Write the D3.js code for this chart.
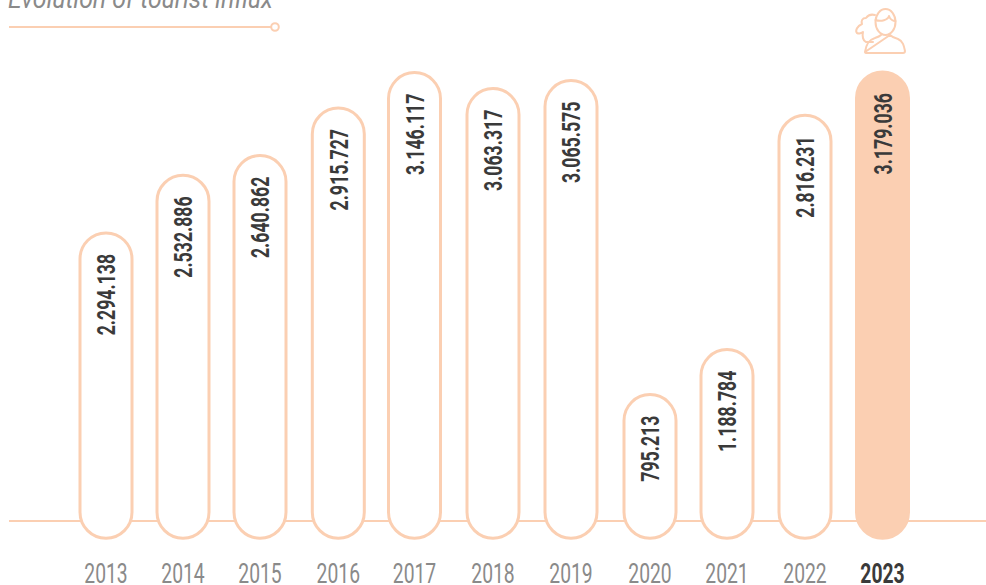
<!DOCTYPE html>
<html><head><meta charset="utf-8">
<script src="https://cdnjs.cloudflare.com/ajax/libs/d3/7.8.5/d3.min.js"></script>
<style>html,body{margin:0;padding:0;background:#fff}svg{display:block}
text{font-family:"Roboto","Liberation Sans",sans-serif}</style></head>
<body><svg id="c" width="986" height="585"></svg>
<script>
const years=["2013","2014","2015","2016","2017","2018","2019","2020","2021","2022","2023"];
const values=[2294138,2532886,2640862,2915727,3146117,3063317,3065575,795213,1188784,2816231,3179036];
const labels=["2.294.138","2.532.886","2.640.862","2.915.727","3.146.117","3.063.317","3.065.575","795.213","1.188.784","2.816.231","3.179.036"];
const highlightYear="2023";
const title="Evolution of tourist influx";
const peach="#fbcfb2", dark="#3a3a3a", grey="#8a8a8a";
const svg=d3.select("#c");
// The source graphic's bar heights are not linear in the values: a piecewise scale reproduces them.
const knots=[795213,1188784,2294138,2532886,2640862,2816231,2915727,3063317,3065575,3146117,3179036];
const y=d3.scaleLinear().domain(knots).range([394.6,349.6,232.9,175.3,155.6,115.3,108,88.6,80.6,72.6,72]);
// The source columns are unevenly spaced.
const x=d3.scaleOrdinal().domain(years).range([106,183,260,338.3,414.5,493,571,650,727,805,882.5]);
const yBase=521,barBottom=538.2,barW=52;
svg.append("text").attr("transform","translate(8,8) scale(0.884,1)").attr("font-size",28).attr("font-style","italic").attr("font-weight",400).attr("fill",grey).text(title);
svg.append("line").attr("x1",9).attr("x2",271).attr("y1",27).attr("y2",27).attr("stroke",peach).attr("stroke-width",2);
svg.append("circle").attr("cx",275).attr("cy",27).attr("r",3.8).attr("fill","#fff").attr("stroke",peach).attr("stroke-width",2);
svg.append("line").attr("x1",9).attr("x2",986).attr("y1",yBase).attr("y2",yBase).attr("stroke",peach).attr("stroke-width",2);
const data=years.map((d,i)=>({year:d,value:values[i],label:labels[i]}));
const g=svg.selectAll("g.b").data(data).join("g").attr("class","b");
g.append("rect").attr("x",d=>x(d.year)-barW/2).attr("y",d=>y(d.value))
 .attr("width",barW).attr("height",d=>barBottom-y(d.value)).attr("rx",barW/2).attr("ry",barW/2)
 .attr("fill",d=>d.year===highlightYear?peach:"#fff").attr("stroke",peach).attr("stroke-width",3);
g.append("text").attr("transform",d=>`translate(${x(d.year)+9.2},${y(d.value)+21}) rotate(-90) scale(0.69,1)`)
 .attr("text-anchor","end").attr("font-size",25.7).attr("font-weight",700).attr("fill",dark).text(d=>d.label);
g.append("text").attr("transform",d=>`translate(${x(d.year)},583.3) scale(0.69,1)`).attr("text-anchor","middle").attr("font-size",28)
 .attr("font-weight",d=>d.year===highlightYear?700:400).attr("fill",d=>d.year===highlightYear?dark:grey).text(d=>d.year);
const ic=svg.append("g").attr("fill","none").attr("stroke",peach).attr("stroke-width",2).attr("stroke-linejoin","round").attr("stroke-linecap","round");
ic.append("ellipse").attr("cx",885.5).attr("cy",22).attr("rx",10).attr("ry",13);
ic.append("path").attr("d","M875.5 20C881 22 888 20 889 16C890 19 893 21 895.5 21");
ic.append("path").attr("d","M865 52C866 45 868 40 875 38C878 37 880 36 881 35M890 35C892 37 894 38 898 39C903 41 904 46 905 51Q905 53 903 53L867 53Q865 53 865 52Z");
ic.append("path").attr("d","M875 15C871 14 868 15 866 18C862 18 861 21 862 24C857 26 855 31 857 33C859 34 862 33 863 32C862 36 863 41 866 42L873 42");
</script></body></html>
